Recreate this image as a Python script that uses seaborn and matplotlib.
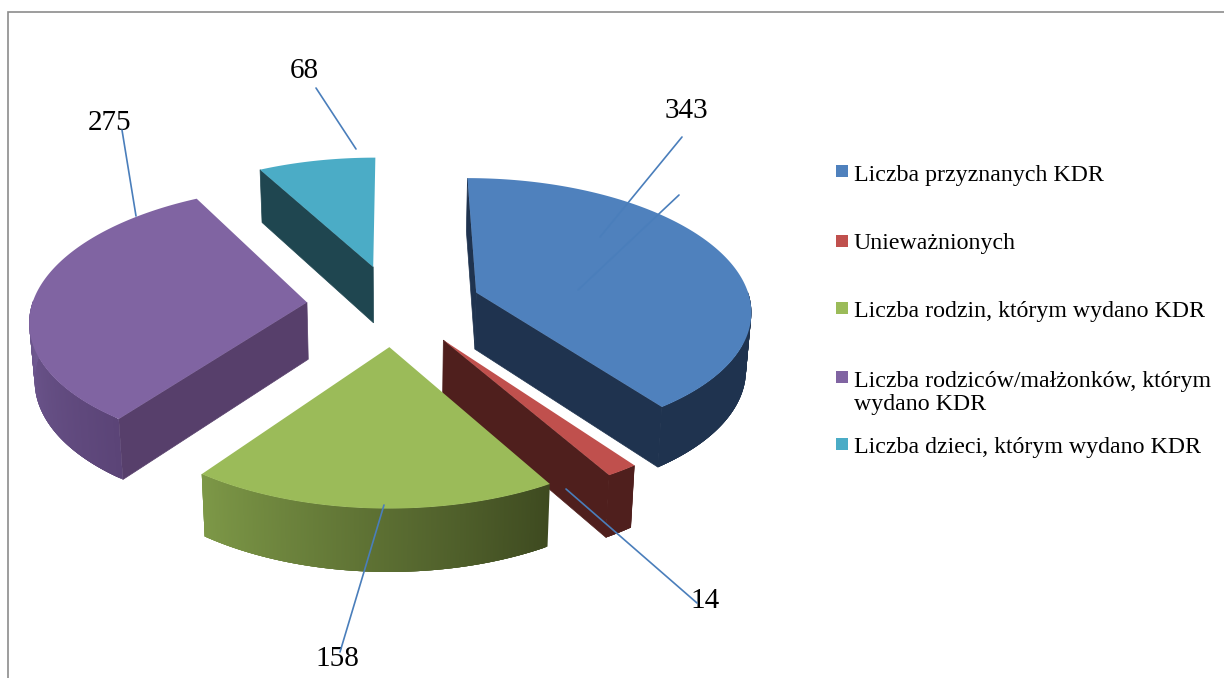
import numpy as np
import matplotlib
matplotlib.use("Agg")
import matplotlib.pyplot as plt
from matplotlib.patches import Polygon, Rectangle
import seaborn as sns

categories = ["Liczba przyznanych KDR", "Unieważnionych", "Liczba rodzin, którym wydano KDR",
              "Liczba rodziców/małżonków, którym\nwydano KDR", "Liczba dzieci, którym wydano KDR"]
values = [343, 14, 158, 275, 68]

top_colors = ["#4F81BD", "#C0504D", "#9BBB59", "#8064A2", "#4BACC6"]
cut_colors = ["#1F334F", "#4F1F1D", "#3E4A20", "#573F6B", "#1F4650"]
wall_start = ["#1F334F", "#4F1F1D", "#3E4A20", "#5B4477", "#1F4650"]   # clockwise start of rim
wall_end = ["#1F334F", "#4F1F1D", "#7D9847", "#705A92", "#1F4650"]     # clockwise end of rim
draw_order = [4, 3, 0, 1, 2]

# projection of the tilted pie onto the page, in pixels
CX, CY, A, B, P, DEPTH, SHRINK = 394, 305, 275, 131, 0.12, 57, 0.985
EXPLODE_X, EXPLODE_Y = 0.318, 0.31

label_xy = [(686, 111), (705, 601), (337, 659), (110, 123), (304, 71)]
leaders = [[((682, 137), (600, 237)), ((679, 195), (578, 290))],
           [((566, 489), (697, 603))],
           [((384, 505), (340, 652))],
           [((122, 130), (136, 216))],
           [((316, 88), (356, 149))]]
legend_y = [171, 241, 308, 377, 444]
legend_text_y = [175, 243, 312, 393, 447]

sns.set_theme(style="white")
palette = sns.color_palette(top_colors)
plt.rcParams["font.family"] = ["Liberation Serif", "DejaVu Serif"]

fig = plt.figure(figsize=(12.24, 6.78), dpi=100)
ax = fig.add_axes([0, 0, 1, 1])
ax.set_xlim(0, 1224)
ax.set_ylim(678, 0)
ax.axis("off")


def project(u, v, bottom=False):
    s = 1 / (1 + P * v)
    x = A * u * s
    y = -B * v * s
    if bottom:
        return CX + x * SHRINK, CY + y + DEPTH * (1 + 0.6 * (s - 1))
    return CX + x, CY + y


def lerp_color(c0, c1, t):
    a = np.array(matplotlib.colors.to_rgb(c0))
    b = np.array(matplotlib.colors.to_rgb(c1))
    return tuple(a + (b - a) * t)


def area(pts):
    x, y = np.array(pts).T
    return abs(np.dot(x, np.roll(y, 1)) - np.dot(y, np.roll(x, 1))) / 2


def face_visible(apex, rim, inner):
    # a cut face shows when the top of the wedge lies above its upper edge on the page
    ex, ey = rim[0] - apex[0], rim[1] - apex[1]
    ix, iy = inner[0] - apex[0], inner[1] - apex[1]
    return ex * (ex * iy - ey * ix) < 0 or (ex * iy - ey * ix) * ex == 0


total = sum(values)
edges = np.concatenate([[0], np.cumsum(values)]) / total * 2 * np.pi

# frame of the chart area
ax.plot([8, 8, 1224], [678, 12, 12], color="#8C8C8C", lw=1.2, solid_joinstyle="miter")

for rank, i in enumerate(draw_order):
    z = 2 + rank
    t0, t1 = edges[i], edges[i + 1]
    mid = (t0 + t1) / 2
    ou, ov = EXPLODE_X * np.sin(mid), EXPLODE_Y * np.cos(mid)
    th = np.linspace(t0, t1, 241)
    ru, rv = ou + np.sin(th), ov + np.cos(th)
    inner = project(ou + np.sin(mid), ov + np.cos(mid))

    # the two cut faces, leaving out hidden ones and a face seen only edge-on
    for k in (0, -1):
        pts = [project(ou, ov), project(ru[k], rv[k]),
               project(ru[k], rv[k], True), project(ou, ov, True)]
        if area(pts) > 300 and face_visible(pts[0], pts[1], inner):
            ax.add_patch(Polygon(pts, closed=True, fc=cut_colors[i], ec=cut_colors[i],
                                 lw=0.5, zorder=z))
    # near part of the rim, in overlapping strips so the shading can change along it
    near = np.where(np.cos(th) < 0.02)[0]
    if len(near) > 1:
        for n, j in enumerate(near[:-1]):
            j2 = min(j + 4, near[-1])
            upper = [project(ru[m], rv[m]) for m in range(j, j2 + 1)]
            lower = [project(ru[m], rv[m], True) for m in range(j2, j - 1, -1)]
            c = lerp_color(wall_start[i], wall_end[i], n / max(len(near) - 2, 1))
            ax.add_patch(Polygon(upper + lower, closed=True, fc=c, ec="none", zorder=z))
    # top
    top = [project(ou, ov)] + [project(a, b) for a, b in zip(ru, rv)]
    ax.add_patch(Polygon(top, closed=True, fc=palette[i], ec="none", zorder=z))

# data labels and leader lines
for val, (lx, ly), segs in zip(values, label_xy, leaders):
    ax.text(lx, ly, str(val), fontsize=21, color="black", ha="center", va="center", zorder=10)
    for (x0, y0), (x1, y1) in segs:
        ax.plot([x0, x1], [y0, y1], color="#4A7EBB", lw=1.2, zorder=11)

# legend
for name, col, ys, yt in zip(categories, palette, legend_y, legend_text_y):
    ax.add_patch(Rectangle((836, ys - 6), 12, 12, fc=col, ec="none", zorder=10))
    ax.text(854, yt, name, fontsize=17.2, color="black", ha="left", va="center",
            linespacing=1.15, zorder=10)

fig.savefig("out.png", dpi=100, facecolor="white")
